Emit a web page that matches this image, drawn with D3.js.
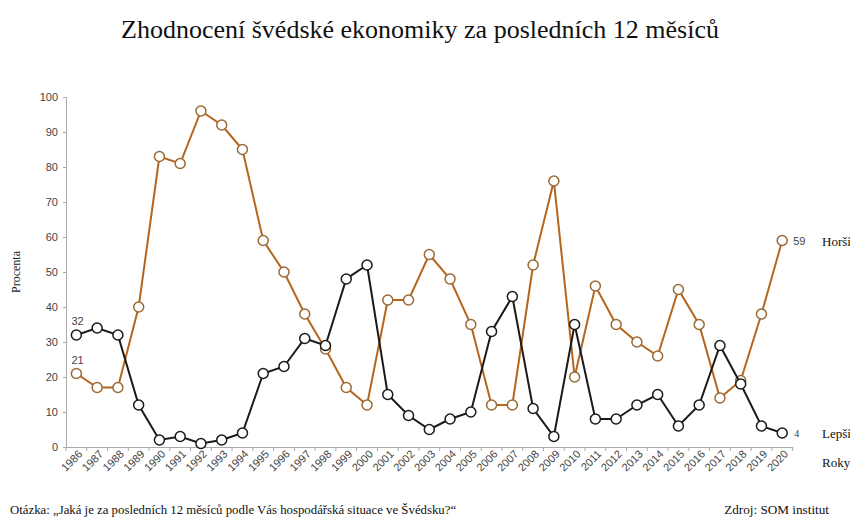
<!DOCTYPE html>
<html><head><meta charset="utf-8">
<script src="https://cdn.jsdelivr.net/npm/d3@7"></script>
<style>body{margin:0;background:#fff}svg{display:block}</style>
</head><body>
<svg id="c" width="850" height="517"></svg>
<script>
const years = ["1986","1987","1988","1989","1990","1991","1992","1993","1994","1995","1996","1997","1998","1999","2000","2001","2002","2003","2004","2005","2006","2007","2008","2009","2010","2011","2012","2013","2014","2015","2016","2017","2018","2019","2020"];
const horsi = [21,17,17,40,83,81,96,92,85,59,50,38,28,17,12,42,42,55,48,35,12,12,52,76,20,46,35,30,26,45,35,14,19,38,59];
const lepsi = [32,34,32,12,2,3,1,2,4,21,23,31,29,48,52,15,9,5,8,10,33,43,11,3,35,8,8,12,15,6,12,29,18,6,4];
const yTicks = [0,10,20,30,40,50,60,70,80,90,100];

const svg = d3.select("#c");
const serif = "'Liberation Serif', 'Times New Roman', serif";
const sans = "'Liberation Sans', Arial, sans-serif";
const x = d3.scaleBand().domain(years).range([66, 792.6]);
const y = d3.scaleLinear().domain([0,100]).range([447, 97]);
const cx = d => x(d) + x.bandwidth()/2;

svg.append("text").attr("x", 420).attr("y", 38).attr("text-anchor","middle")
  .attr("font-family", serif).attr("font-size", 26).attr("fill","#111")
  .text("Zhodnocení švédské ekonomiky za posledních 12 měsíců");

// y axis
const ya = svg.append("g").attr("transform","translate(66,0)").call(d3.axisLeft(y).tickValues(yTicks).tickSize(3).tickPadding(5));
ya.select(".domain").attr("stroke","#aaa");
ya.selectAll(".tick line").attr("stroke","#aaa");
ya.selectAll("text").attr("font-family", sans).attr("font-size", 11).attr("fill","#444");

// x axis
const xa = svg.append("g").attr("transform","translate(0,447)").call(d3.axisBottom(x).tickSize(4).tickSizeOuter(0));
xa.select(".domain").attr("stroke","#aaa");
xa.selectAll(".tick line").attr("stroke","#aaa").attr("transform", `translate(${-x.bandwidth()/2},0)`);
xa.selectAll("text").attr("font-family", sans).attr("font-size", 11).attr("fill","#444")
  .attr("text-anchor","end").attr("transform","translate(4,5) rotate(-45)").attr("dy","0.35em").attr("y",0).attr("x",0);
svg.append("line").attr("x1",792.6).attr("x2",792.6).attr("y1",447).attr("y2",451).attr("stroke","#aaa");

svg.append("text").attr("transform","translate(20,272) rotate(-90)").attr("text-anchor","middle")
  .attr("font-family", serif).attr("font-size", 12).attr("fill","#222").text("Procenta");

const line = d3.line().x((d,i)=>cx(years[i])).y(d=>y(d));
function series(vals, col, stroke){
  svg.append("path").datum(vals).attr("d", line).attr("fill","none").attr("stroke", col).attr("stroke-width", 2);
  svg.append("g").selectAll("circle").data(vals).join("circle")
    .attr("cx",(d,i)=>cx(years[i])).attr("cy",d=>y(d)).attr("r",5)
    .attr("fill","#fff").attr("stroke", stroke).attr("stroke-width",1.5);
}
series(horsi, "#b5651d", "#9a6a35");
series(lepsi, "#1a1a1a", "#1a1a1a");

const last = years.length-1;
svg.append("text").attr("x", cx(years[0])-5).attr("y", y(lepsi[0])-10).attr("font-family", sans).attr("font-size",11).attr("fill","#444").text(lepsi[0]);
svg.append("text").attr("x", cx(years[0])-5).attr("y", y(horsi[0])-10).attr("font-family", sans).attr("font-size",11).attr("fill","#444").text(horsi[0]);
svg.append("text").attr("x", cx(years[last])+11).attr("y", y(horsi[last])+4).attr("font-family", sans).attr("font-size",11).attr("fill","#444").text(horsi[last]);
svg.append("text").attr("x", cx(years[last])+12).attr("y", y(lepsi[last])+4).attr("font-family", serif).attr("font-size",10).attr("fill","#333").text(lepsi[last]);

svg.append("text").attr("x",822).attr("y", y(horsi[last])+5).attr("font-family", serif).attr("font-size",13).attr("fill","#111").text("Horší");
svg.append("text").attr("x",822).attr("y", y(lepsi[last])+5).attr("font-family", serif).attr("font-size",13).attr("fill","#111").text("Lepší");
svg.append("text").attr("x",822).attr("y", 467).attr("font-family", serif).attr("font-size",13).attr("fill","#111").text("Roky");

svg.append("text").attr("x",10).attr("y",514).attr("font-family", serif).attr("font-size",12.8).attr("fill","#111")
  .text("Otázka: „Jaká je za posledních 12 měsíců podle Vás hospodářská situace ve Švédsku?“");
svg.append("text").attr("x",829).attr("y",514).attr("text-anchor","end").attr("font-family", serif).attr("font-size",13.2).attr("fill","#111")
  .text("Zdroj: SOM institut");
</script>
</body></html>
